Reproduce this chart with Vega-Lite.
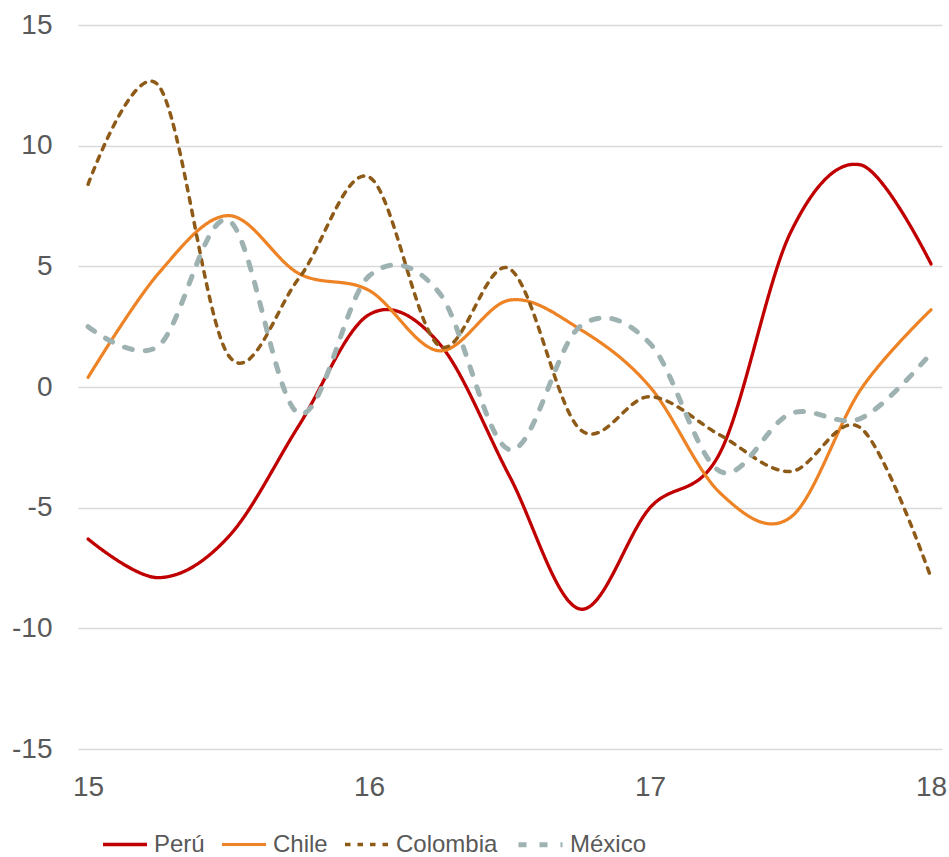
{
  "$schema": "https://vega.github.io/schema/vega-lite/v6.json",
  "width": 864,
  "height": 724,
  "autosize": {"type": "none"},
  "padding": {"left": 78, "top": 25, "right": 7, "bottom": 108},
  "background": "white",
  "config": {
    "view": {"stroke": null},
    "font": "Liberation Sans",
    "axis": {"labelColor": "#595959", "labelFontSize": 28, "labelFont": "Liberation Sans"},
    "legend": {
      "orient": "none", "legendX": 23, "legendY": 795, "direction": "horizontal",
      "symbolType": "stroke", "symbolSize": 1936, "labelFontSize": 24, "labelFont": "Liberation Sans", "labelColor": "#595959",
      "labelOffset": 5, "columnPadding": 10, "labelLimit": 300
    }
  },
  "data": {
    "values": [
      {"t": 15, "pais": "Perú", "v": -6.3},
      {"t": 15.25, "pais": "Perú", "v": -7.9},
      {"t": 15.5, "pais": "Perú", "v": -6.2},
      {"t": 15.75, "pais": "Perú", "v": -1.6},
      {"t": 16, "pais": "Perú", "v": 3.0},
      {"t": 16.25, "pais": "Perú", "v": 1.8},
      {"t": 16.5, "pais": "Perú", "v": -3.7},
      {"t": 16.75, "pais": "Perú", "v": -9.2},
      {"t": 17, "pais": "Perú", "v": -5.0},
      {"t": 17.25, "pais": "Perú", "v": -2.7},
      {"t": 17.5, "pais": "Perú", "v": 6.4},
      {"t": 17.75, "pais": "Perú", "v": 9.2},
      {"t": 18, "pais": "Perú", "v": 5.1},
      {"t": 15, "pais": "Chile", "v": 0.4},
      {"t": 15.25, "pais": "Chile", "v": 4.7},
      {"t": 15.5, "pais": "Chile", "v": 7.1},
      {"t": 15.75, "pais": "Chile", "v": 4.7},
      {"t": 16, "pais": "Chile", "v": 4.0},
      {"t": 16.25, "pais": "Chile", "v": 1.5},
      {"t": 16.5, "pais": "Chile", "v": 3.6},
      {"t": 16.75, "pais": "Chile", "v": 2.4},
      {"t": 17, "pais": "Chile", "v": 0.0},
      {"t": 17.25, "pais": "Chile", "v": -4.4},
      {"t": 17.5, "pais": "Chile", "v": -5.4},
      {"t": 17.75, "pais": "Chile", "v": -0.1},
      {"t": 18, "pais": "Chile", "v": 3.2},
      {"t": 15, "pais": "Colombia", "v": 8.4},
      {"t": 15.25, "pais": "Colombia", "v": 12.5},
      {"t": 15.5, "pais": "Colombia", "v": 1.3},
      {"t": 15.75, "pais": "Colombia", "v": 4.5},
      {"t": 16, "pais": "Colombia", "v": 8.7},
      {"t": 16.25, "pais": "Colombia", "v": 1.7},
      {"t": 16.5, "pais": "Colombia", "v": 4.9},
      {"t": 16.75, "pais": "Colombia", "v": -1.75},
      {"t": 17, "pais": "Colombia", "v": -0.4},
      {"t": 17.25, "pais": "Colombia", "v": -2.0},
      {"t": 17.5, "pais": "Colombia", "v": -3.5},
      {"t": 17.75, "pais": "Colombia", "v": -1.7},
      {"t": 18, "pais": "Colombia", "v": -7.9},
      {"t": 15, "pais": "México", "v": 2.5},
      {"t": 15.25, "pais": "México", "v": 1.7},
      {"t": 15.5, "pais": "México", "v": 6.9},
      {"t": 15.75, "pais": "México", "v": -1.1},
      {"t": 16, "pais": "México", "v": 4.6},
      {"t": 16.25, "pais": "México", "v": 3.9},
      {"t": 16.5, "pais": "México", "v": -2.6},
      {"t": 16.75, "pais": "México", "v": 2.5},
      {"t": 17, "pais": "México", "v": 1.8},
      {"t": 17.25, "pais": "México", "v": -3.5},
      {"t": 17.5, "pais": "México", "v": -1.1},
      {"t": 17.75, "pais": "México", "v": -1.3},
      {"t": 18, "pais": "México", "v": 1.4}
    ]
  },
  "mark": {"type": "line", "interpolate": "cardinal", "strokeCap": "round"},
  "encoding": {
    "x": {
      "field": "t", "type": "quantitative",
      "scale": {"domain": [14.964, 18.039], "nice": false, "zero": false},
      "axis": {"title": null, "values": [15, 16, 17, 18], "grid": false, "domain": false, "ticks": false, "labelPadding": 24, "labelFlush": false, "labelExpr": "datum.value + ''"}
    },
    "y": {
      "field": "v", "type": "quantitative",
      "scale": {"domain": [-15, 15], "nice": false, "zero": false},
      "axis": {"title": null, "values": [-15, -10, -5, 0, 5, 10, 15], "grid": true, "gridColor": "#D9D9D9", "gridWidth": 1.5, "domain": false, "ticks": false, "labelPadding": 26, "labelExpr": "datum.value + ''"}
    },
    "color": {
      "field": "pais", "type": "nominal",
      "scale": {"domain": ["Perú", "Chile", "Colombia", "México"], "range": ["#C00000", "#EE8326", "#8E5A18", "#9FB2B2"]},
      "legend": {"title": null}
    },
    "strokeDash": {
      "field": "pais", "type": "nominal",
      "scale": {"domain": ["Perú", "Chile", "Colombia", "México"], "range": [[1, 0], [1, 0], [5.5, 7], [8, 13]]},
      "legend": {"title": null}
    },
    "strokeWidth": {
      "field": "pais", "type": "nominal",
      "scale": {"type": "ordinal", "domain": ["Perú", "Chile", "Colombia", "México"], "range": [3.3, 3.2, 3.5, 5]},
      "legend": {"title": null}
    }
  }
}
